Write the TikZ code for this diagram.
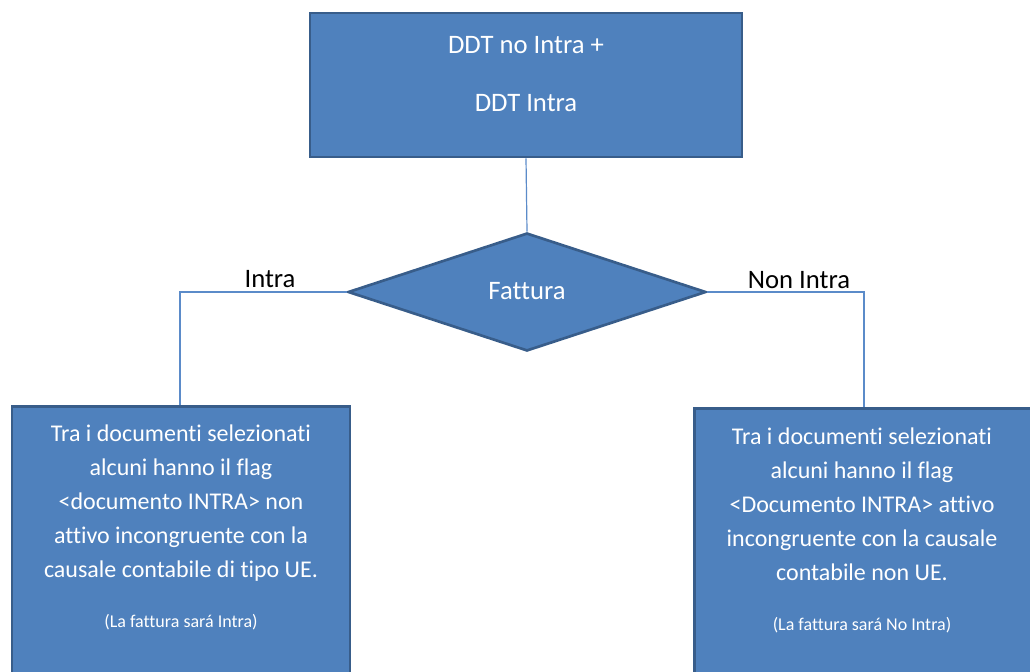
\documentclass[tikz,border=0pt]{standalone}
\usepackage{fontspec}
\setmainfont[Ligatures=NoCommon]{Carlito}
\usetikzlibrary{shapes.geometric}
\definecolor{boxfill}{HTML}{4F81BD}
\definecolor{boxedge}{HTML}{385D8A}
\definecolor{linkc}{HTML}{5B8BC9}
\tikzset{
  bluebox/.style={draw=boxedge, fill=boxfill, line width=2pt, inner sep=0pt},
  boxtext/.style={text=white, align=center, inner sep=0pt, font=\fontsize{18}{25.5}\selectfont},
  smalltext/.style={text=white, align=center, inner sep=0pt, font=\fontsize{13.5}{15}\selectfont},
  link/.style={draw=linkc, line width=0.9pt},
  lbl/.style={text=black, inner sep=0pt, font=\fontsize{20}{24}\selectfont},
}
\begin{document}
\begin{tikzpicture}[x=0.75pt,y=-0.75pt]
\useasboundingbox (0,0) rectangle (1030,671);
\begin{scope}
\clip (0,0) rectangle (1030,671);
% top box
\node[bluebox, minimum width=432*0.75pt, minimum height=144*0.75pt] (top) at (526,85) {};
\node[boxtext, font=\fontsize{20}{24}\selectfont] (toptxt1) at (526,45) {DDT no Intra +};
\node[boxtext, font=\fontsize{20}{24}\selectfont] (toptxt2) at (526,103) {DDT Intra};
% diamond
\node[diamond, draw=boxedge, fill=boxfill, line width=2pt, inner sep=0pt, aspect=3,
      minimum width=358*0.75pt, minimum height=118*0.75pt] (dec) at (527,292) {};
\node[text=white, inner sep=0pt, font=\fontsize{20}{24}\selectfont] (dectxt) at (527,291) {Fattura};
% bottom boxes
\node[bluebox, minimum width=338*0.75pt, minimum height=320*0.75pt, anchor=north] (lbox) at (181,405) {};
\node[bluebox, minimum width=339*0.75pt, minimum height=320*0.75pt, anchor=north west] (rbox) at (693,407) {};
\node[boxtext] (ltxt) at (181,503) {Tra i documenti selezionati\\alcuni hanno il flag\\{<}documento INTRA{>} non\\attivo incongruente con la\\causale contabile di tipo UE.};
\node[smalltext] (lsmall) at (181,622) {(La fattura sará Intra)};
\node[boxtext] (rtxt) at (862,504) {Tra i documenti selezionati\\alcuni hanno il flag\\{<}Documento INTRA{>} attivo\\incongruente con la causale\\contabile non UE.};
\node[smalltext] (rsmall) at (862,625) {(La fattura sará No Intra)};
% connectors
\draw[link] (top.south) -- (dec.north);
\coordinate (lc) at (180,292);
\coordinate (rc) at (864,292);
\draw[link] (dec.west) -- (lc) -- (lc |- lbox.north);
\draw[link] (dec.east) -- (rc) -- (rc |- rbox.north);
\node[lbl] (lintra) at (270,279) {Intra};
\node[lbl] (lnon) at (799,280) {Non Intra};
\end{scope}
\end{tikzpicture}
\end{document}
